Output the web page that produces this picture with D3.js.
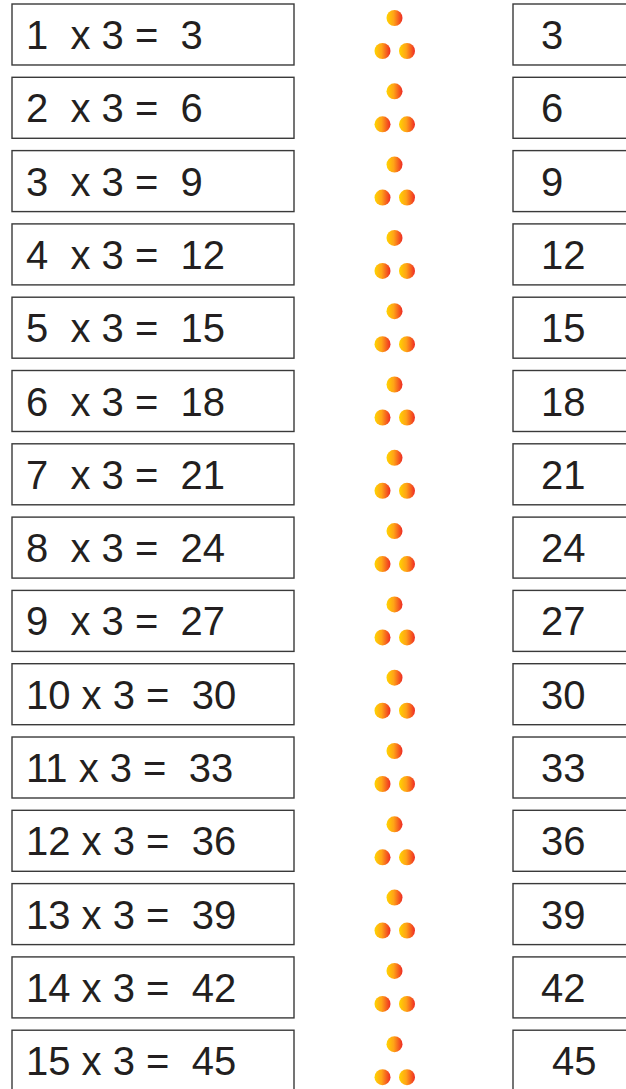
<!DOCTYPE html>
<html>
<head>
<meta charset="utf-8">
<script src="https://cdn.jsdelivr.net/npm/d3@7"></script>
<style>
  html, body { margin: 0; padding: 0; background: #fff; }
  svg { display: block; }
  .label { font-family: "Liberation Sans", Arial, Helvetica, sans-serif; font-size: 40px; fill: #231f20; white-space: pre; }
  .box { fill: #fff; stroke: #3a3a3a; stroke-width: 1.4px; }
</style>
</head>
<body>
<script>
// three times table, one row per factor
const factors = [1, 2, 3, 4, 5, 6, 7, 8, 9, 10, 11, 12, 13, 14, 15];
const sums = [
  "1  x 3 =  3", "2  x 3 =  6", "3  x 3 =  9", "4  x 3 =  12", "5  x 3 =  15",
  "6  x 3 =  18", "7  x 3 =  21", "8  x 3 =  24", "9  x 3 =  27", "10 x 3 =  30",
  "11 x 3 =  33", "12 x 3 =  36", "13 x 3 =  39", "14 x 3 =  42", "15 x 3 =  45"
];
const answers = ["3", "6", "9", "12", "15", "18", "21", "24", "27", "30", "33", "36", "39", "42", " 45"];

const width = 626;
const height = 1089;

const svg = d3.select("body").append("svg")
  .attr("width", width)
  .attr("height", height);

const y = d3.scaleBand()
  .domain(factors)
  .range([4, 1091.2])
  .paddingInner(0.168)
  .paddingOuter(0)
  .align(0);

const grad = svg.append("defs").append("linearGradient")
  .attr("id", "dotFill")
  .attr("x1", "0%").attr("x2", "100%")
  .attr("y1", "0%").attr("y2", "0%");
grad.append("stop").attr("offset", "0%").attr("stop-color", "#ffd400");
grad.append("stop").attr("offset", "45%").attr("stop-color", "#ffa317");
grad.append("stop").attr("offset", "100%").attr("stop-color", "#ee2a24");

const rows = svg.selectAll("g.row")
  .data(factors)
  .join("g")
  .attr("class", "row")
  .attr("transform", d => "translate(0," + y(d) + ")");

// left box: the sum
rows.append("rect")
  .attr("class", "box")
  .attr("x", 12)
  .attr("width", 282)
  .attr("height", y.bandwidth());

rows.append("text")
  .attr("class", "label")
  .attr("xml:space", "preserve")
  .attr("x", 26)
  .attr("y", 45)
  .text((d, i) => sums[i]);

// three dots for "x 3"
const dotSpots = [[394.5, 14], [382.5, 47], [407, 47]];
rows.selectAll("circle")
  .data(dotSpots)
  .join("circle")
  .attr("cx", d => d[0])
  .attr("cy", d => d[1])
  .attr("r", 8)
  .attr("fill", "url(#dotFill)");

// right box: the answer (runs off the edge)
rows.append("rect")
  .attr("class", "box")
  .attr("x", 513)
  .attr("width", 140)
  .attr("height", y.bandwidth());

rows.append("text")
  .attr("class", "label")
  .attr("xml:space", "preserve")
  .attr("x", 541)
  .attr("y", 45)
  .text((d, i) => answers[i]);
</script>
</body>
</html>
